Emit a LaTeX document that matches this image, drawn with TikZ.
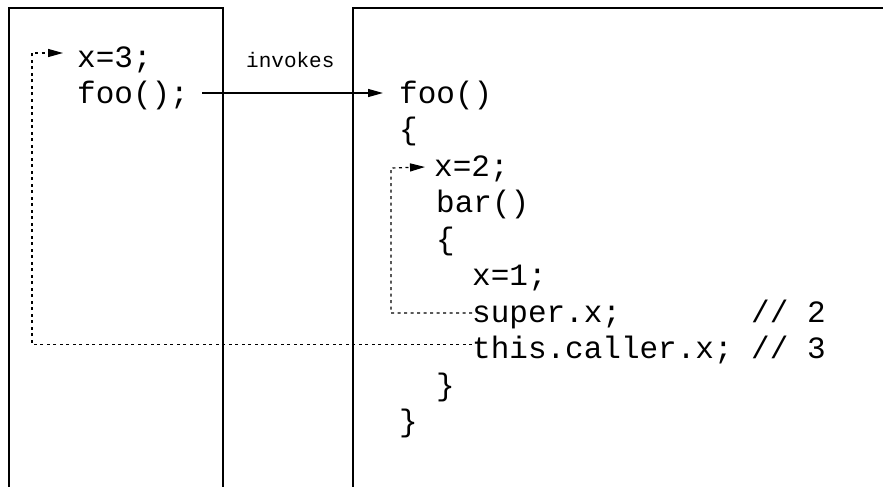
\documentclass[tikz,border=0pt]{standalone}
\usepackage{fontspec}
\newfontfamily\codefont{Liberation Mono}
\usetikzlibrary{arrows.meta}
\tikzset{
  code/.style={inner sep=0pt, anchor=base west, font=\codefont\fontsize{31}{31}\selectfont},
  lbl/.style={inner sep=0pt, anchor=base west, font=\codefont\fontsize{21}{21}\selectfont},
  frame/.style={line width=1.4pt},
  callarrow/.style={line width=1.3pt, -{Triangle[length=15pt,width=8pt]}},
  dotarrow/.style={line width=1.2pt, dash pattern=on 3pt off 3.5pt, -{Triangle[length=15pt,width=8pt]}},
}
\begin{document}
\begin{tikzpicture}[x=1pt,y=-1pt]
\useasboundingbox (0,0) rectangle (884,487);
% panels
\draw[frame] (9,487) -- (9,8) -- (223,8) -- (223,487);
\draw[frame] (353,487) -- (353,8) -- (883,8);
% left code
\node[code] (x3) at (77,67) {x=3;};
\node[code] (callfoo) at (77,103) {foo();};
\node[lbl] (invokes) at (246,67) {invokes};
% right code
\node[code] (deffoo) at (399,103) {foo()};
\node[code] (ob1) at (399,139.5) {\{};
\node[code] (x2) at (434,176) {x=2;};
\node[code] (bar) at (436,212.5) {bar()};
\node[code] (ob2) at (436,249) {\{};
\node[code] (x1) at (472,285.5) {x=1;};
\node[code] (super) at (472,322) {super.x;\ \ \ \ \ \ \ // 2};
\node[code] (caller) at (472,358.5) {this.caller.x; // 3};
\node[code] (cb2) at (436,395) {\}};
\node[code] (cb1) at (399,431.5) {\}};
% connectors
\coordinate (outer) at (32,53);
\coordinate (inner) at (391,168);
\draw[callarrow] ([xshift=13pt,yshift=10pt]callfoo.base east) -- ([xshift=-16pt,yshift=10pt]deffoo.base west);
\draw[dotarrow] ([yshift=14pt]caller.base west) -| (outer) -- ([xshift=-14pt,yshift=14pt]x3.base west);
\draw[dotarrow] ([yshift=9pt]super.base west) -| (inner) -- ([xshift=-9pt,yshift=9pt]x2.base west);
\end{tikzpicture}
\end{document}
